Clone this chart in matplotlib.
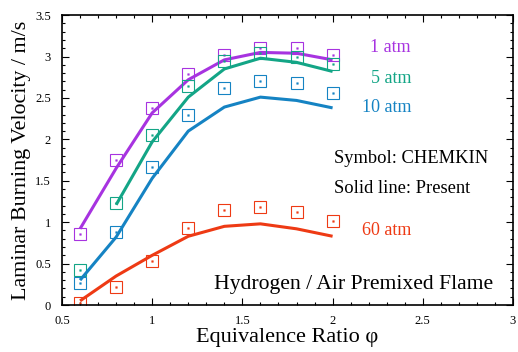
import matplotlib.pyplot as plt
from matplotlib.ticker import MultipleLocator

plt.rcParams['font.family'] = ['Liberation Serif', 'DejaVu Serif']

# equivalence ratio
phi = [0.6, 0.8, 1.0, 1.2, 1.4, 1.6, 1.8, 2.0]

# solid lines: present model
line_1 = [0.92, 1.65, 2.32, 2.72, 2.96, 3.05, 3.04, 2.96]
line_5 = [None, 1.21, 1.97, 2.51, 2.85, 2.98, 2.93, 2.82]
line_10 = [0.30, 0.82, 1.53, 2.10, 2.39, 2.51, 2.47, 2.38]
line_60 = [0.05, 0.35, 0.60, 0.83, 0.95, 0.98, 0.92, 0.83]

# symbols: CHEMKIN
sym_1 = [0.86, 1.75, 2.38, 2.79, 3.02, 3.10, 3.10, 3.02]
sym_5 = [0.42, 1.23, 2.05, 2.64, 2.95, 3.04, 3.00, 2.91]
sym_10 = [0.26, 0.88, 1.67, 2.29, 2.62, 2.71, 2.68, 2.56]
sym_60 = [0.03, 0.22, 0.53, 0.93, 1.15, 1.18, 1.12, 1.02]

labels = ['1 atm', '5 atm', '10 atm', '60 atm']
colors = ['#a733e0', '#13a586', '#1583c3', '#ee3a14']
label_y = [3.11, 2.74, 2.38, 0.90]

fig = plt.figure(figsize=(5.18, 3.52), dpi=100)
ax = fig.add_axes([0.1197, 0.1335, 0.8706, 0.8235])

for lv, sv, c, lab, ly in zip([line_1, line_5, line_10, line_60],
                              [sym_1, sym_5, sym_10, sym_60],
                              colors, labels, label_y):
    xs = [p for p, v in zip(phi, lv) if v is not None]
    ys = [v for v in lv if v is not None]
    ax.plot(xs, ys, color=c, lw=2.2, solid_capstyle='butt')
    ax.plot(phi, sv, ls='none', marker='s', ms=8, mfc='none', mec=c, mew=0.8)
    ax.plot(phi, sv, ls='none', marker='s', ms=1.2, mfc=c, mec=c, mew=0.3)
    ax.text(2.435, ly, lab, color=c, fontsize=13, ha='right', va='center')

ax.text(2.01, 1.77, 'Symbol: CHEMKIN', fontsize=13.3, va='center')
ax.text(2.01, 1.41, 'Solid line: Present', fontsize=13.3, va='center')
ax.text(1.34, 0.25, 'Hydrogen / Air Premixed Flame', fontsize=15.6, va='center')

ax.set_xlim(0.5, 3)
ax.set_ylim(0, 3.5)
ax.xaxis.set_minor_locator(MultipleLocator(0.1))
ax.yaxis.set_minor_locator(MultipleLocator(0.1))
ax.set_xticks([0.5, 1, 1.5, 2, 2.5, 3], ['0.5', '1', '1.5', '2', '2.5', '3'])
ax.set_yticks([0, 0.5, 1, 1.5, 2, 2.5, 3, 3.5],
              ['0', '0.5', '1', '1.5', '2', '2.5', '3', '3.5'])
ax.tick_params(which='both', direction='in', top=True, right=True,
               labelsize=9, width=0.8)
ax.tick_params(which='major', length=5)
ax.tick_params(which='minor', length=2.5)
ax.tick_params(axis='x', which='major', pad=7)
ax.tick_params(axis='y', which='major', pad=8)
for s in ax.spines.values():
    s.set_linewidth(1.2)

ax.set_xlabel('Equivalence Ratio φ', fontsize=16, labelpad=1)
ax.set_ylabel('Laminar Burning Velocity / m/s', fontsize=15.8, labelpad=3)

fig.savefig('out.png', dpi=100)
